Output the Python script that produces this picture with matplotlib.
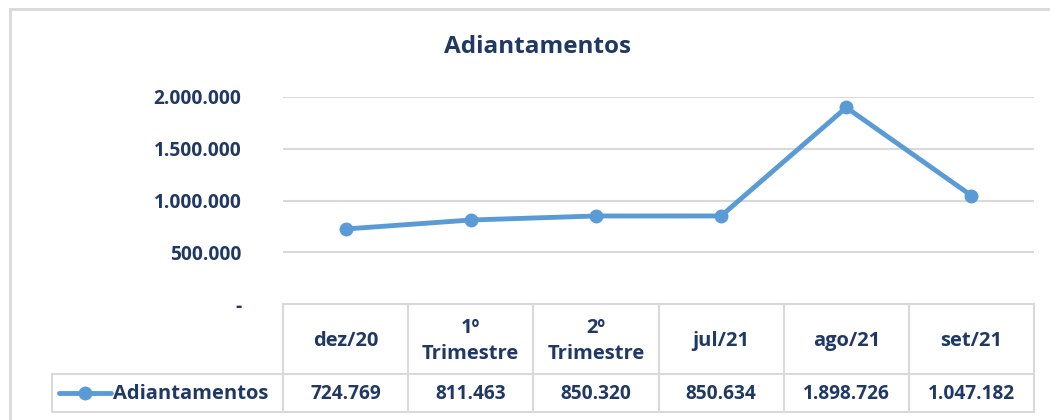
import matplotlib
matplotlib.use("Agg")
import matplotlib.pyplot as plt
from matplotlib.lines import Line2D
from matplotlib.patches import Rectangle

title = "Adiantamentos"
series_name = "Adiantamentos"
categories = ["dez/20", "1º\nTrimestre", "2º\nTrimestre", "jul/21", "ago/21", "set/21"]
values = [724769, 811463, 850320, 850634, 1898726, 1047182]
yticks = [0, 500000, 1000000, 1500000, 2000000]

def fmt(v):
    if v == 0:
        return "-"
    return f"{v:,.0f}".replace(",", ".")

NAVY = "#1F3864"
BLUE = "#5B9BD5"
GRID = "#D9D9D9"
plt.rcParams['font.family'] = ['Open Sans', 'DejaVu Sans']
FS = 14.5
NFS = 13.8

W, H = 1050, 420
fig = plt.figure(figsize=(W / 100, H / 100), dpi=100)

def fx(px):
    return px / W

def fy(py):
    return 1 - py / H

# outer chart border
fig.add_artist(Rectangle((fx(10), fy(430)), fx(1060) - fx(10), fy(9) - fy(430),
                         transform=fig.transFigure, fill=False, edgecolor=GRID, lw=2))

left, right = 283, 1034
top, zero = 97, 304
ax = fig.add_axes([fx(left), fy(zero), fx(right) - fx(left), fy(top) - fy(zero)])
ax.set_xlim(-0.5, len(categories) - 0.5)
ax.set_ylim(0, 2000000)
for s in ax.spines.values():
    s.set_visible(False)
ax.set_xticks([])
ax.set_yticks(yticks)
ax.set_yticklabels([fmt(v) for v in yticks], fontsize=NFS, fontweight='bold', color=NAVY)
ax.tick_params(axis='y', length=0, pad=30)
for t in yticks[1:]:
    ax.axhline(t, color=GRID, lw=1.5, zorder=0)
ax.plot(range(len(values)), values, color=BLUE, lw=3.5, marker='o', ms=9,
        solid_capstyle='round', zorder=3)

fig.text(fx(537), fy(47), title, ha='center', va='center', fontsize=17.5,
         fontweight='bold', color=NAVY)

# data table
row1_top, row2_top, row2_bot = zero, 374, 412
leg_left = 52
colw = (right - left) / len(categories)
lines = []
lines.append(((left, right), (row1_top, row1_top)))
lines.append(((leg_left, right), (row2_top, row2_top)))
lines.append(((leg_left, right), (row2_bot, row2_bot)))
lines.append(((leg_left, leg_left), (row2_top, row2_bot)))
for i in range(len(categories) + 1):
    x = left + i * colw
    lines.append(((x, x), (row1_top, row2_bot)))
for xs, ys in lines:
    fig.add_artist(Line2D([fx(v) for v in xs], [fy(v) for v in ys],
                          transform=fig.transFigure, color=GRID, lw=1.5))

for i, (c, v) in enumerate(zip(categories, values)):
    cx = left + (i + 0.5) * colw
    fig.text(fx(cx), fy((row1_top + row2_top) / 2 + 2), c, ha='center', va='center',
             fontsize=FS, fontweight='bold', color=NAVY, linespacing=1.35)
    fig.text(fx(cx), fy((row2_top + row2_bot) / 2 + 1), fmt(v), ha='center', va='center',
             fontsize=NFS, fontweight='bold', color=NAVY)

# legend key
ky = fy((row2_top + row2_bot) / 2)
fig.add_artist(Line2D([fx(59), fx(111)], [ky, ky], transform=fig.transFigure,
                      color=BLUE, lw=3.5, solid_capstyle='round'))
fig.add_artist(Line2D([fx(85)], [ky], transform=fig.transFigure, color=BLUE,
                      marker='o', ms=9))
fig.text(fx(113), fy((row2_top + row2_bot) / 2 + 1), series_name, ha='left', va='center',
         fontsize=FS, fontweight='bold', color=NAVY)

fig.savefig("out.png", dpi=100)
